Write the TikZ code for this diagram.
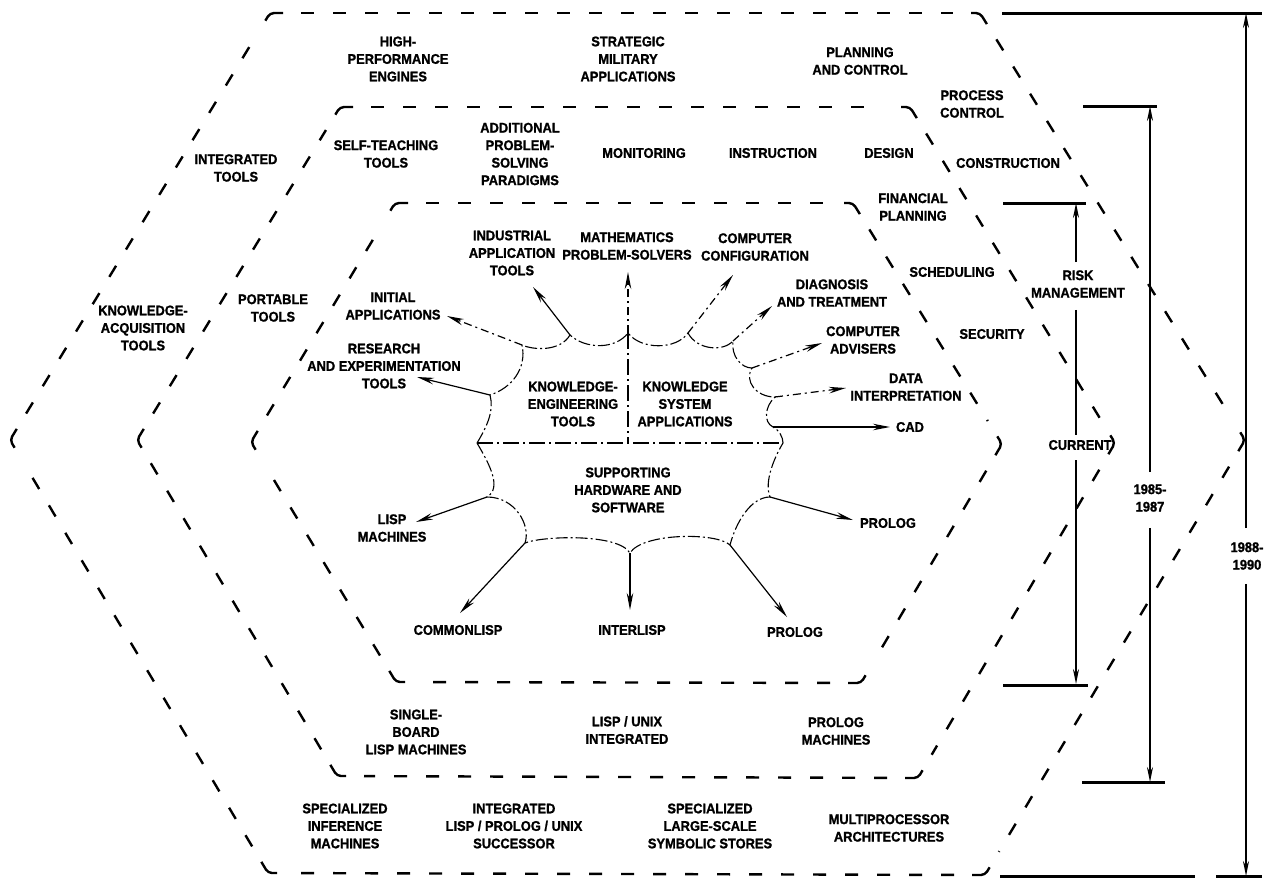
\documentclass[tikz,border=0pt]{standalone}
\usepackage{fontspec}
\newfontfamily\lblfont{Liberation Sans}[FakeStretch=0.92,FakeBold=1.2]
\usetikzlibrary{calc,arrows.meta}

\begin{document}
\begin{tikzpicture}[x=1pt,y=-1pt,
  hexedge/.style={line width=2.4pt, dash pattern=on 13pt off 19pt},
  hexcorner/.style={line width=2.4pt, rounded corners=4pt},
  lbl/.style={font=\lblfont\bfseries\fontsize{14}{17.5}\selectfont, align=center, inner sep=0pt},
  burst/.style={line width=1.1pt, dash pattern=on 12pt off 3pt on 2pt off 3pt},
  divider/.style={line width=1.3pt, dash pattern=on 16pt off 4pt on 2pt off 4pt},
  spoke/.style={line width=1.2pt, -{Stealth[length=17pt,width=6.5pt]}},
  dotspoke/.style={spoke, dash pattern=on 8pt off 4pt on 2pt off 4pt},
  dimline/.style={line width=1.8pt},
  dimbar/.style={line width=3pt},
  dimtip/.style={-{Stealth[length=15pt,width=6pt]}}]

\fill[white] (0,0) rectangle (1264,879);
\useasboundingbox (0,0) rectangle (1264,879);

% ---------- the three nested hexagons ----------
\coordinate (o1) at (270,13);  \coordinate (o2) at (980,13);  \coordinate (o3) at (1245,440);
\coordinate (o4) at (985,875); \coordinate (o5) at (268,873); \coordinate (o6) at (10,440);
\coordinate (m1) at (340,107); \coordinate (m2) at (910,107); \coordinate (m3) at (1115,443);
\coordinate (m4) at (918,778); \coordinate (m5) at (337,776); \coordinate (m6) at (137,440);
\coordinate (i1) at (395,203); \coordinate (i2) at (853,203); \coordinate (i3) at (1002,444);
\coordinate (i4) at (861,683); \coordinate (i5) at (396,682); \coordinate (i6) at (251,442);

\foreach \h in {o,m,i}{
  \foreach \p/\v/\n in {6/1/2,1/2/3,2/3/4,3/4/5,4/5/6,5/6/1}{
    \draw[hexcorner] ($(\h\v)!9pt!(\h\p)$) -- (\h\v) -- ($(\h\v)!13pt!(\h\n)$);
    \draw[hexedge] ($(\h\v)!31pt!(\h\n)$) -- ($(\h\n)!27pt!(\h\v)$);
  }
}

% ---------- outer band ----------
\node[lbl] (hpe)  at (398,59)  {HIGH-\\PERFORMANCE\\ENGINES};
\node[lbl] (sma)  at (628,59)  {STRATEGIC\\MILITARY\\APPLICATIONS};
\node[lbl] (pac)  at (860,61)  {PLANNING\\AND CONTROL};
\node[lbl] (pctl) at (972,104) {PROCESS\\CONTROL};
\node[lbl] (cons) at (1008,163){CONSTRUCTION};
\node[lbl] (itool) at (236,168){INTEGRATED\\TOOLS};
\node[lbl] (kacq) at (143,328) {KNOWLEDGE-\\ACQUISITION\\TOOLS};
\node[lbl] (sinf) at (345,826) {SPECIALIZED\\INFERENCE\\MACHINES};
\node[lbl] (ilpu) at (514,826) {INTEGRATED\\LISP / PROLOG / UNIX\\SUCCESSOR};
\node[lbl] (slss) at (710,826) {SPECIALIZED\\LARGE-SCALE\\SYMBOLIC STORES};
\node[lbl] (mpa)  at (889,828) {MULTIPROCESSOR\\ARCHITECTURES};

% ---------- middle band ----------
\node[lbl] (stt)  at (386,154) {SELF-TEACHING\\TOOLS};
\node[lbl] (apsp) at (520,154) {ADDITIONAL\\PROBLEM-\\SOLVING\\PARADIGMS};
\node[lbl] (mon)  at (644,153) {MONITORING};
\node[lbl] (ins)  at (773,153) {INSTRUCTION};
\node[lbl] (des)  at (889,153) {DESIGN};
\node[lbl] (fin)  at (913,207) {FINANCIAL\\PLANNING};
\node[lbl] (sch)  at (952,272) {SCHEDULING};
\node[lbl] (sec)  at (992,334) {SECURITY};
\node[lbl] (port) at (273,308) {PORTABLE\\TOOLS};
\node[lbl] (sbl)  at (416,732) {SINGLE-\\BOARD\\LISP MACHINES};
\node[lbl] (lui)  at (627,730) {LISP / UNIX\\INTEGRATED};
\node[lbl] (prm)  at (836,731) {PROLOG\\MACHINES};

% ---------- inner hexagon labels ----------
\node[lbl] (ind)  at (512,253) {INDUSTRIAL\\APPLICATION\\TOOLS};
\node[lbl] (math) at (627,246) {MATHEMATICS\\PROBLEM-SOLVERS};
\node[lbl] (ccfg) at (755,247) {COMPUTER\\CONFIGURATION};
\node[lbl] (diag) at (832,293) {DIAGNOSIS\\AND TREATMENT};
\node[lbl] (init) at (393,306) {INITIAL\\APPLICATIONS};
\node[lbl] (cadv) at (863,340) {COMPUTER\\ADVISERS};
\node[lbl] (res)  at (384,366) {RESEARCH\\AND EXPERIMENTATION\\TOOLS};
\node[lbl] (data) at (906,387) {DATA\\INTERPRETATION};
\node[lbl] (cad)  at (910,427) {CAD};
\node[lbl] (ket)  at (573,404) {KNOWLEDGE-\\ENGINEERING\\TOOLS};
\node[lbl] (ksa)  at (685,404) {KNOWLEDGE\\SYSTEM\\APPLICATIONS};
\node[lbl] (shs)  at (628,490) {SUPPORTING\\HARDWARE AND\\SOFTWARE};
\node[lbl] (lispm) at (392,528){LISP\\MACHINES};
\node[lbl] (prr)  at (888,523) {PROLOG};
\node[lbl] (cmn)  at (458,630) {COMMONLISP};
\node[lbl] (itl)  at (632,630) {INTERLISP};
\node[lbl] (prb)  at (795,632) {PROLOG};

% ---------- central burst ----------
\coordinate (L)  at (477,443); \coordinate (J)  at (783,443); \coordinate (M) at (628,443);
\coordinate (A1) at (490,395); \coordinate (A2) at (522,345);
\coordinate (A3) at (570,335); \coordinate (A4) at (628,333);
\coordinate (B1) at (688,333); \coordinate (B2) at (733,341); \coordinate (B3) at (752,368);
\coordinate (B4) at (775,397); \coordinate (B5) at (773,427);
\coordinate (C1) at (487,497); \coordinate (C2) at (525,543); \coordinate (C3) at (630,553);
\coordinate (C4) at (730,545); \coordinate (C5) at (770,497);

\draw[burst] (L) .. controls (488,425) and (494,410) .. (A1)
  .. controls (512,388) and (527,368) .. (A2)
  .. controls (533,350) and (560,352) .. (A3)
  .. controls (585,349) and (615,350) .. (A4)
  .. controls (641,350) and (676,350) .. (B1)
  .. controls (697,350) and (723,352) .. (B2)
  .. controls (731,356) and (741,368) .. (B3)
  .. controls (744,381) and (756,397) .. (B4)
  .. controls (765,406) and (763,422) .. (B5)
  .. controls (779,430) and (783,437) .. (J);
\draw[burst] (L) .. controls (490,465) and (502,488) .. (C1)
  .. controls (515,497) and (531,525) .. (C2)
  .. controls (542,536) and (618,533) .. (C3)
  .. controls (642,533) and (716,532) .. (C4)
  .. controls (736,522) and (751,497) .. (C5)
  .. controls (764,482) and (774,458) .. (J);
\draw[divider] (L) -- (J);
\draw[divider] (A4) -- (M);

% arrow tips next to the labels
\coordinate (tRes) at (417,377); \coordinate (tIni) at (447,316);
\coordinate (tInd) at (533,287); \coordinate (tMat) at (628,272);
\coordinate (tCfg) at (733,275); \coordinate (tDia) at (772,306);
\coordinate (tAdv) at (822,343); \coordinate (tDat) at (846,388);
\coordinate (tCad) at (890,427);
\coordinate (tLsm) at (416,522); \coordinate (tCom) at (460,613);
\coordinate (tInt) at (630,610); \coordinate (tPrb) at (787,617);
\coordinate (tPrr) at (853,520);

\draw[spoke]    (A1) -- (tRes);
\draw[dotspoke] (A2) -- (tIni);
\draw[spoke]    (A3) -- (tInd);
\draw[dotspoke] (A4) -- (tMat);
\draw[dotspoke] (B1) -- (tCfg);
\draw[dotspoke] (B2) -- (tDia);
\draw[dotspoke] (B3) -- (tAdv);
\draw[dotspoke] (B4) -- (tDat);
\draw[spoke]    (B5) -- (tCad);
\draw[spoke] (C1) -- (tLsm);
\draw[spoke] (C2) -- (tCom);
\draw[spoke] (C3) -- (tInt);
\draw[spoke] (C4) -- (tPrb);
\draw[spoke] (C5) -- (tPrr);

% ---------- time scale on the right ----------
\node[lbl] (risk) at (1078,284) {RISK\\MANAGEMENT};
\node[lbl] (curr) at (1080,445) {CURRENT};
\node[lbl] (y85)  at (1150,498) {1985-\\1987};
\node[lbl] (y88)  at (1247,556) {1988-\\1990};

\coordinate (rkTop) at (1076,203); \coordinate (rkBot) at (1076,684);
\coordinate (y85Top) at (1150,106); \coordinate (y85Bot) at (1150,782);
\coordinate (y88Top) at (1246,13);  \coordinate (y88Bot) at (1246,876);

\draw[dimbar] (1002,13) -- (1262,13);
\draw[dimbar] (1083,106) -- (1157,106);
\draw[dimbar] (1003,203) -- (1086,203);
\draw[dimbar] (1003,685) -- (1088,685);
\draw[dimbar] (1082,782) -- (1165,782);
\draw[dimbar] (1000,876) -- (1195,876);
\draw[dimbar] (1216,876) -- (1262,876);

\draw[dimline,dimtip,shorten <=8pt]  (risk.north -| rkTop) -- (rkTop);
\draw[dimline,shorten <=12pt,shorten >=5pt] (risk.south -| rkTop) -- (curr.north -| rkTop);
\draw[dimline,dimtip,shorten <=10pt] (curr.south -| rkBot) -- (rkBot);
\draw[dimline,dimtip,shorten <=12pt] (y85.north -| y85Top) -- (y85Top);
\draw[dimline,dimtip,shorten <=16pt] (y85.south -| y85Bot) -- (y85Bot);
\draw[dimline,dimtip,shorten <=14pt] (y88.north -| y88Top) -- (y88Top);
\draw[dimline,dimtip,shorten <=14pt] (y88.south -| y88Bot) -- (y88Bot);

\end{tikzpicture}
\end{document}
